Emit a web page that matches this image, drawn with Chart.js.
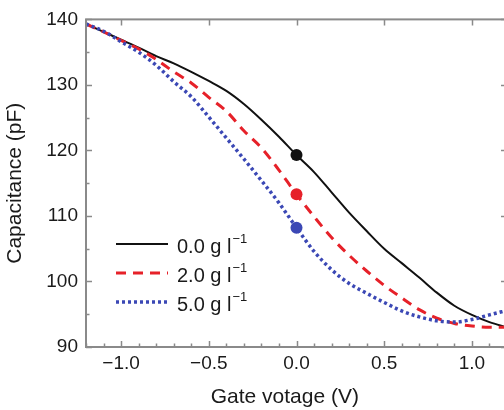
<!DOCTYPE html>
<html>
<head>
<meta charset="utf-8">
<script src="https://cdn.jsdelivr.net/npm/chart.js@4"></script>
<style>
  body { margin: 0; overflow: hidden; background: #fff; }
</style>
</head>
<body>
<canvas id="myChart" width="512" height="410"></canvas>
<script>
// data block
var gateV = [-1.2, -1.1, -1.0, -0.9, -0.8, -0.7, -0.6, -0.5, -0.4, -0.3, -0.2, -0.1,
             0.0, 0.1, 0.2, 0.3, 0.4, 0.5, 0.6, 0.7, 0.8, 0.9, 1.0, 1.1, 1.2];
var cap0 = [139.3, 138.1, 136.9, 135.7, 134.4, 133.3, 132.0, 130.6, 129.1, 127.1, 124.7, 122.1,
            119.3, 116.7, 113.6, 110.5, 107.7, 105.0, 102.8, 100.6, 98.3, 96.3, 94.9, 93.8, 93.0];
var cap2 = [139.3, 138.1, 136.8, 135.5, 133.9, 132.0, 130.3, 128.1, 126.0, 123.0, 120.4, 117.0,
            113.3, 109.9, 106.7, 104.0, 101.6, 99.4, 97.5, 95.7, 94.4, 93.6, 93.2, 93.0, 93.0];
var cap5 = [139.3, 138.2, 136.6, 135.0, 133.0, 130.5, 128.2, 125.1, 121.9, 118.7, 115.4, 112.0,
            108.2, 104.6, 101.8, 99.7, 98.2, 96.8, 95.5, 94.6, 94.0, 93.8, 94.2, 94.9, 95.6];
var seriesLabels = ['0.0 g l', '2.0 g l', '5.0 g l'];
var markerV = 0.0;
var xTicks = [-1.0, -0.5, 0.0, 0.5, 1.0];
var xTickLabels = ['\u22121.0', '\u22120.5', '0.0', '0.5', '1.0'];
var yTicks = [90, 100, 110, 120, 130, 140];
var yTickLabels = ['90', '100', '110', '120', '130', '140'];

var colors = ['#111111', '#e62129', '#3b48b5'];
var dashes = [[], [10, 7], [3, 3]];
var widths = [2, 3, 3.5];

function pts(ys) {
  return gateV.map(function (x, i) { return { x: x, y: ys[i] }; });
}

var fontFam = '"Liberation Sans", Arial, Helvetica, sans-serif';

// frame + inward ticks
const framePlugin = {
  id: 'frame',
  afterDatasetsDraw: function (chart) {
    const ctx = chart.ctx;
    const a = chart.chartArea;
    const xs = chart.scales.x, ys = chart.scales.y;
    ctx.save();
    ctx.strokeStyle = '#8a8a8a';
    ctx.lineWidth = 2;
    ctx.strokeRect(a.left, a.top, a.right - a.left, a.bottom - a.top);
    ctx.lineWidth = 1.5;
    ctx.beginPath();
    for (let v = -1.2; v <= 1.2001; v += 0.1) {
      const px = Math.round(xs.getPixelForValue(v)) + 0.5;
      const major = Math.abs(v * 2 - Math.round(v * 2)) < 1e-6;
      const len = major ? 6 : 3.5;
      ctx.moveTo(px, a.bottom); ctx.lineTo(px, a.bottom - len);
      if (major) { ctx.moveTo(px, a.top); ctx.lineTo(px, a.top + len); }
    }
    for (let v = 90; v <= 140; v += 5) {
      const py = Math.round(ys.getPixelForValue(v)) + 0.5;
      const major = v % 10 === 0;
      const len = major ? 6 : 3.5;
      ctx.moveTo(a.left, py); ctx.lineTo(a.left + len, py);
      if (major) { ctx.moveTo(a.right, py); ctx.lineTo(a.right - len, py); }
    }
    ctx.stroke();
    ctx.restore();
  },
  afterDraw: function (chart) {
    // legend inside the plot
    const ctx = chart.ctx;
    const rows = [244, 273, 302];
    ctx.save();
    for (let i = 0; i < seriesLabels.length; i++) {
      const y = rows[i];
      ctx.strokeStyle = colors[i];
      ctx.lineWidth = widths[i];
      ctx.setLineDash(dashes[i]);
      ctx.beginPath();
      ctx.moveTo(116, y); ctx.lineTo(168, y);
      ctx.stroke();
      ctx.setLineDash([]);
      ctx.fillStyle = '#1a1a1a';
      ctx.textBaseline = 'middle';
      ctx.font = '20px ' + fontFam;
      ctx.fillText(seriesLabels[i], 177, y + 3);
      const w = ctx.measureText(seriesLabels[i]).width;
      ctx.font = '13px ' + fontFam;
      ctx.fillText('\u22121', 177 + w + 1, y - 5);
    }
    ctx.restore();
  }
};

const data = {
  datasets: [cap0, cap2, cap5].map(function (ys, i) {
    return {
      label: seriesLabels[i],
      data: pts(ys),
      borderColor: colors[i],
      backgroundColor: colors[i],
      borderWidth: widths[i],
      borderDash: dashes[i],
      cubicInterpolationMode: 'monotone',
      pointRadius: function (c) { return c.raw && c.raw.x === markerV ? 6 : 0; },
      pointBorderWidth: 0,
      order: 2 - i
    };
  })
};

const config = {
  type: 'line',
  data: data,
  options: {
    responsive: false,
    animation: false,
    layout: { padding: { top: 16, right: 5, left: 0, bottom: 0 } },
    plugins: {
      legend: { display: false },
      tooltip: { enabled: false }
    },
    scales: {
      x: {
        type: 'linear',
        min: -1.2,
        max: 1.2,
        grid: { display: false, drawTicks: false },
        border: { display: false },
        afterBuildTicks: function (s) { s.ticks = xTicks.map(function (v) { return { value: v }; }); },
        afterFit: function (s) { s.height = 63; },
        ticks: {
          padding: 5,
          color: '#1a1a1a',
          font: { family: fontFam, size: 19 },
          maxRotation: 0,
          callback: function (v) { return xTickLabels[xTicks.indexOf(v)]; }
        },
        title: {
          display: true,
          text: 'Gate votage (V)\u00a0\u00a0\u00a0\u00a0',
          color: '#1a1a1a',
          font: { family: fontFam, size: 21 },
          padding: { top: 0, bottom: 0 }
        }
      },
      y: {
        min: 90,
        max: 140,
        grid: { display: false, drawTicks: false },
        border: { display: false },
        afterBuildTicks: function (s) { s.ticks = yTicks.map(function (v) { return { value: v }; }); },
        afterFit: function (s) { s.width = 86; },
        ticks: {
          padding: 8,
          color: '#1a1a1a',
          font: { family: fontFam, size: 19 },
          callback: function (v) { return yTickLabels[yTicks.indexOf(v)]; }
        },
        title: {
          display: true,
          text: 'Capacitance (pF)',
          color: '#1a1a1a',
          font: { family: fontFam, size: 21 },
          padding: { top: 3, bottom: 0 }
        }
      }
    }
  },
  plugins: [framePlugin]
};

// render init block
const myChart = new Chart(document.getElementById('myChart'), config);
</script>
</body>
</html>
